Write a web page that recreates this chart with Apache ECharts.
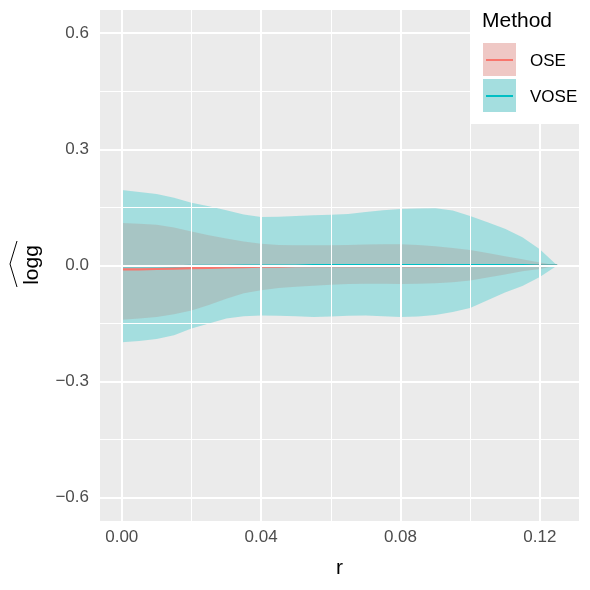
<!DOCTYPE html>
<html>
<head>
<meta charset="utf-8">
<script src="https://cdn.jsdelivr.net/npm/echarts@6/dist/echarts.min.js"></script>
<style>
html, body { margin: 0; padding: 0; background: #fff; }
#graph { width: 590px; height: 590px; }
</style>
</head>
<body>
<div id="graph"></div>
<script>
// r grid
const r = [0, 0.005, 0.01, 0.015, 0.02, 0.025, 0.03, 0.035, 0.04, 0.045, 0.05, 0.055, 0.06,
  0.065, 0.07, 0.075, 0.08, 0.085, 0.09, 0.095, 0.1, 0.105, 0.11, 0.115, 0.12, 0.125];

// OSE
const oseMean = [-0.010, -0.010, -0.009, -0.008, -0.007, -0.006, -0.005, -0.004, -0.003, -0.003, -0.002,
  -0.002, -0.002, -0.002, -0.002, -0.002, -0.002, -0.002, -0.002, -0.001, -0.001, -0.001, -0.001, 0, 0, 0];
const oseLower = [-0.140, -0.137, -0.133, -0.126, -0.116, -0.102, -0.086, -0.072, -0.064, -0.058, -0.055,
  -0.052, -0.050, -0.048, -0.047, -0.047, -0.048, -0.047, -0.046, -0.043, -0.039, -0.031, -0.023, -0.015, -0.009, 0];
const oseUpper = [0.110, 0.108, 0.105, 0.098, 0.088, 0.078, 0.070, 0.062, 0.056, 0.053, 0.052,
  0.052, 0.052, 0.053, 0.054, 0.055, 0.055, 0.053, 0.050, 0.045, 0.040, 0.032, 0.024, 0.016, 0.008, 0];

// VOSE
const voseMean = [-0.002, -0.002, -0.002, -0.002, -0.001, -0.001, -0.001, 0, 0, 0, 0,
  0.001, 0.001, 0.001, 0.001, 0.001, 0.001, 0.001, 0.001, 0.001, 0.001, 0.001, 0.001, 0.001, 0, 0];
const voseLower = [-0.198, -0.195, -0.190, -0.180, -0.163, -0.150, -0.137, -0.131, -0.129, -0.130, -0.131,
  -0.133, -0.132, -0.130, -0.129, -0.131, -0.133, -0.132, -0.128, -0.120, -0.110, -0.090, -0.070, -0.053, -0.030, 0];
const voseUpper = [0.195, 0.190, 0.185, 0.175, 0.162, 0.153, 0.143, 0.132, 0.125, 0.126, 0.128,
  0.130, 0.131, 0.133, 0.138, 0.143, 0.146, 0.147, 0.148, 0.142, 0.128, 0.112, 0.095, 0.073, 0.042, 0];

// ticks / grid
const xTicks = [0, 0.04, 0.08, 0.12];
const xMinor = [0.02, 0.06, 0.10];
const yTicks = [-0.6, -0.3, 0, 0.3, 0.6];
const yMinor = [-0.45, -0.15, 0.15, 0.45];

const FONT = '"Liberation Sans", Arial, sans-serif';

function bandSeries(name, lower, upper, color) {
  return {
    type: 'custom',
    name: name,
    data: [[0, 0]],
    z: 2,
    silent: true,
    clip: true,
    renderItem: function (params, api) {
      let pts = [];
      for (let i = 0; i < r.length; i++) pts.push(api.coord([r[i], upper[i]]));
      for (let i = r.length - 1; i >= 0; i--) pts.push(api.coord([r[i], lower[i]]));
      return {type: 'polygon', shape: {points: pts}, style: {fill: color}};
    }
  };
}

function lineSeries(name, mean, color) {
  return {
    type: 'line',
    name: name,
    data: r.map((x, i) => [x, mean[i]]),
    showSymbol: false,
    z: 3,
    silent: true,
    lineStyle: {color: color, width: 2.2}
  };
}

let gridLines = [];
xTicks.forEach(v => gridLines.push({xAxis: v, lineStyle: {width: 2}}));
xMinor.forEach(v => gridLines.push({xAxis: v, lineStyle: {width: 1}}));
yTicks.forEach(v => gridLines.push({yAxis: v, lineStyle: {width: 2}}));
yMinor.forEach(v => gridLines.push({yAxis: v, lineStyle: {width: 1}}));

let myChart = echarts.init(document.getElementById('graph'));
myChart.setOption({
  animation: false,
  backgroundColor: '#fff',
  textStyle: {fontFamily: FONT},
  grid: {
    left: 100, top: 10, right: 11, bottom: 69,
    show: true, backgroundColor: '#EBEBEB', borderWidth: 0
  },
  xAxis: {
    type: 'value',
    min: -0.00625,
    max: 0.13125,
    name: 'r',
    nameLocation: 'middle',
    nameGap: 37,
    nameTextStyle: {color: '#000', fontSize: 21, fontFamily: FONT},
    axisLine: {show: false},
    splitLine: {show: false},
    axisTick: {show: true, customValues: xTicks, length: 4, lineStyle: {color: '#333', width: 1.5}},
    axisLabel: {
      customValues: xTicks, color: '#4D4D4D', fontSize: 17, margin: 8, fontFamily: FONT,
      formatter: v => v.toFixed(2)
    }
  },
  yAxis: {
    type: 'value',
    min: -0.66,
    max: 0.66,
    axisLine: {show: false},
    splitLine: {show: false},
    axisTick: {show: true, customValues: yTicks, length: 4, lineStyle: {color: '#333', width: 1.5}},
    axisLabel: {
      customValues: yTicks, color: '#4D4D4D', fontSize: 17, margin: 11, fontFamily: FONT,
      formatter: v => v.toFixed(1).replace('-', '\u2212')
    }
  },
  series: [
    {
      type: 'line',
      name: 'grid',
      data: [],
      z: 1,
      silent: true,
      markLine: {
        silent: true,
        symbol: 'none',
        animation: false,
        label: {show: false},
        lineStyle: {color: '#fff', type: 'solid'},
        data: gridLines
      }
    },
    bandSeries('OSE band', oseLower, oseUpper, 'rgba(248,118,109,0.3)'),
    bandSeries('VOSE band', voseLower, voseUpper, 'rgba(0,191,196,0.3)'),
    lineSeries('OSE', oseMean, '#F8766D'),
    lineSeries('VOSE', voseMean, '#00BFC4')
  ],
  graphic: [
    // y axis title: logg with a wide hat
    {
      type: 'text', x: 32, y: 265, rotation: Math.PI / 2,
      style: {text: 'logg', fontSize: 21, fontFamily: FONT, fill: '#000', align: 'center', verticalAlign: 'middle'}
    },
    {
      type: 'polyline',
      shape: {points: [[17, 241], [10, 264], [17, 287]]},
      style: {stroke: '#000', lineWidth: 1, fill: null}
    },
    // legend
    {type: 'rect', shape: {x: 470, y: 0, width: 120, height: 124}, style: {fill: '#fff'}, z: 10},
    {
      type: 'text', x: 482, y: 21, z: 11,
      style: {text: 'Method', fontSize: 21, fontFamily: FONT, fill: '#000', verticalAlign: 'middle'}
    },
    {type: 'rect', shape: {x: 483, y: 43, width: 33, height: 33}, style: {fill: '#EBEBEB'}, z: 11},
    {type: 'rect', shape: {x: 483, y: 43, width: 33, height: 33}, style: {fill: 'rgba(248,118,109,0.3)'}, z: 11},
    {type: 'line', shape: {x1: 486, y1: 60, x2: 513, y2: 60}, style: {stroke: '#F8766D', lineWidth: 2}, z: 12},
    {type: 'rect', shape: {x: 483, y: 79, width: 33, height: 33}, style: {fill: '#EBEBEB'}, z: 11},
    {type: 'rect', shape: {x: 483, y: 79, width: 33, height: 33}, style: {fill: 'rgba(0,191,196,0.3)'}, z: 11},
    {type: 'line', shape: {x1: 486, y1: 96, x2: 513, y2: 96}, style: {stroke: '#00BFC4', lineWidth: 2}, z: 12},
    {
      type: 'text', x: 530, y: 61, z: 11,
      style: {text: 'OSE', fontSize: 17, fontFamily: FONT, fill: '#000', verticalAlign: 'middle'}
    },
    {
      type: 'text', x: 530, y: 97, z: 11,
      style: {text: 'VOSE', fontSize: 17, fontFamily: FONT, fill: '#000', verticalAlign: 'middle'}
    }
  ]
});
</script>
</body>
</html>
